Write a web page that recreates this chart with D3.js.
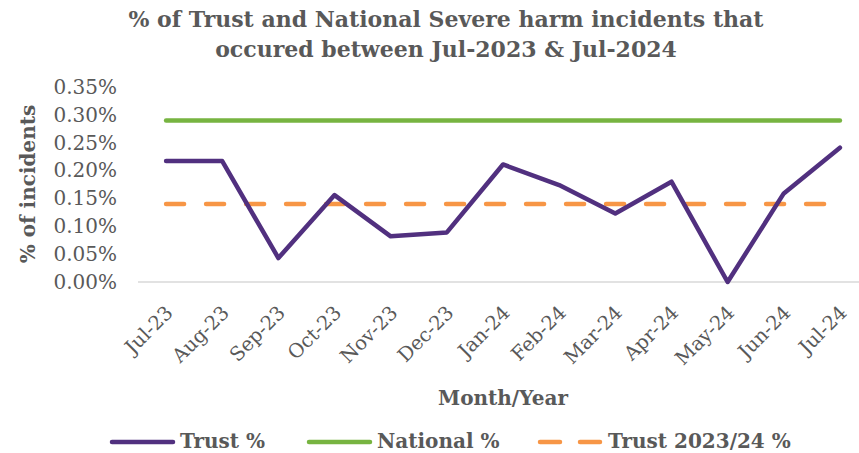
<!DOCTYPE html>
<html>
<head>
<meta charset="utf-8">
<script src="https://cdn.jsdelivr.net/npm/d3@7"></script>
<style>
  body { margin: 0; background: #fff; }
  text { fill: #595959; }
</style>
</head>
<body>
<svg id="chart" width="859" height="453"></svg>
<script>
// Data
const months = ['Jul-23', 'Aug-23', 'Sep-23', 'Oct-23', 'Nov-23', 'Dec-23', 'Jan-24',
                'Feb-24', 'Mar-24', 'Apr-24', 'May-24', 'Jun-24', 'Jul-24'];
const trustPct = [0.217, 0.217, 0.043, 0.156, 0.082, 0.089, 0.211, 0.174, 0.123, 0.180, 0.0, 0.159, 0.241];
const nationalPct = [0.29, 0.29, 0.29, 0.29, 0.29, 0.29, 0.29, 0.29, 0.29, 0.29, 0.29, 0.29, 0.29];
const trustYearPct = [0.14, 0.14, 0.14, 0.14, 0.14, 0.14, 0.14, 0.14, 0.14, 0.14, 0.14, 0.14, 0.14];
const yTicks = [0, 0.05, 0.10, 0.15, 0.20, 0.25, 0.30, 0.35];

const series = [
    { name: 'Trust %', values: trustPct, color: '#51307f', dash: null },
    { name: 'National %', values: nationalPct, color: '#77b441', dash: null },
    { name: 'Trust 2023/24 %', values: trustYearPct, color: '#f79646', dash: '18,22' }
];

const serif = "'DejaVu Serif', serif";
const svg = d3.select('#chart');
const plot = { left: 138, right: 868, top: 87, bottom: 282 };

// category axis, points in the middle of each band
const x = d3.scaleBand().domain(months).range([plot.left, plot.right]);
const xc = d => x(d) + x.bandwidth() / 2;
const y = d3.scaleLinear().domain([0, 0.35]).range([plot.bottom, plot.top]);

// title
svg.append('text')
    .attr('text-anchor', 'middle')
    .style('font-family', serif)
    .style('font-weight', 'bold')
    .style('font-size', '22px')
    .selectAll('tspan')
    .data(['% of Trust and National Severe harm incidents that', 'occured between Jul-2023 & Jul-2024'])
    .enter().append('tspan')
    .attr('x', 446)
    .attr('y', (d, i) => 27 + i * 30)
    .text(d => d);

// y axis labels
const yAxis = d3.axisLeft(y).tickValues(yTicks).tickSize(0).tickPadding(0)
    .tickFormat(d => d.toFixed(2) + '%');
svg.append('g')
    .attr('transform', 'translate(117,0)')
    .call(yAxis)
    .call(g => g.select('.domain').remove())
    .selectAll('text')
    .style('font-family', serif)
    .style('font-size', '20px')
    .style('fill', '#595959');

// baseline
svg.append('line')
    .attr('x1', plot.left).attr('x2', plot.right)
    .attr('y1', y(0)).attr('y2', y(0))
    .attr('stroke', '#d9d9d9').attr('stroke-width', 1.5);

// x axis labels, rotated
const xAxis = d3.axisBottom(x).tickSize(0).tickPadding(0);
svg.append('g')
    .attr('transform', 'translate(0,' + plot.bottom + ')')
    .call(xAxis)
    .call(g => g.select('.domain').remove())
    .selectAll('text')
    .style('font-family', serif)
    .style('font-size', '19.5px')
    .style('fill', '#595959')
    .attr('text-anchor', 'end')
    .attr('dy', 0)
    .attr('transform', 'translate(8,32) rotate(-45)');

// axis titles
svg.append('text')
    .attr('transform', 'translate(35,184) rotate(-90)')
    .attr('text-anchor', 'middle')
    .style('font-family', serif)
    .style('font-weight', 'bold')
    .style('font-size', '20px')
    .text('% of incidents');

svg.append('text')
    .attr('x', 503).attr('y', 405)
    .attr('text-anchor', 'middle')
    .style('font-family', serif)
    .style('font-weight', 'bold')
    .style('font-size', '20px')
    .text('Month/Year');

// series lines
const line = d3.line()
    .x((d, i) => xc(months[i]))
    .y(d => y(d));

series.slice().reverse().forEach(s => {
    svg.append('path')
        .datum(s.values)
        .attr('d', line)
        .attr('fill', 'none')
        .attr('stroke', s.color)
        .attr('stroke-width', 4.5)
        .attr('stroke-linecap', 'round')
        .attr('stroke-linejoin', 'round')
        .attr('stroke-dasharray', s.dash);
});

// legend
const legendX = [110, 307, 538];
const legend = svg.append('g');
series.forEach((s, i) => {
    const x0 = legendX[i];
    const segs = s.dash ? [[x0 + 2, x0 + 22], [x0 + 42, x0 + 62]] : [[x0 + 2, x0 + 63]];
    segs.forEach(([a, b]) => {
        legend.append('line')
            .attr('x1', a).attr('x2', b)
            .attr('y1', 442).attr('y2', 442)
            .attr('stroke', s.color)
            .attr('stroke-width', 4.5)
            .attr('stroke-linecap', 'round');
    });
    legend.append('text')
        .attr('x', x0 + 70).attr('y', 448)
        .style('font-family', serif)
        .style('font-weight', 'bold')
        .style('font-size', '20px')
        .text(s.name);
});
</script>
</body>
</html>
